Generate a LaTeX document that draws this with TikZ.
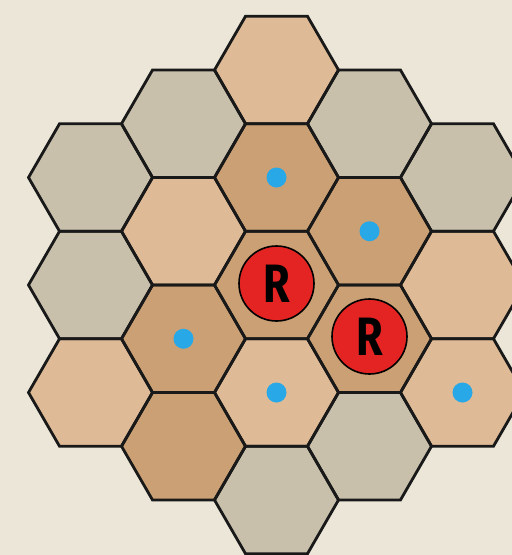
\documentclass[tikz,border=0pt]{standalone}
\usepackage{fontspec}
\newfontfamily\rfont{Fira Sans}
\definecolor{bgpaper}{RGB}{236,230,216}
\definecolor{hexgray}{RGB}{201,192,172}
\definecolor{hexlight}{RGB}{222,186,150}
\definecolor{hexdark}{RGB}{202,160,116}
\definecolor{tokred}{RGB}{228,36,34}
\definecolor{dotblue}{RGB}{40,168,230}
\begin{document}
\begin{tikzpicture}[x=1pt,y=-1pt,
  hexline/.style={draw=black!90, line width=2.8pt, line join=miter},
  dotmark/.style={circle, fill=dotblue, draw=none, minimum size=20pt, inner sep=0pt},
  token/.style={circle, fill=tokred, draw=black, line width=1.6pt, minimum size=75pt, inner sep=0pt,
    font=\rfont\bfseries\fontsize{54}{54}\selectfont}]
\useasboundingbox (0,0) rectangle (512,555);
\fill[bgpaper] (0,0) rectangle (512,555);
\clip (0,0) rectangle (512,555);
\def\hexlist{90.5/177.5/hexgray, 90.5/285/hexgray, 90.5/392.5/hexlight,
  183.5/123.75/hexgray, 183.5/231.25/hexlight, 183.5/338.75/hexdark, 183.5/446.25/hexdark,
  276.5/70/hexlight, 276.5/177.5/hexdark, 276.5/285/hexdark, 276.5/392.5/hexlight, 276.5/500/hexgray,
  369.5/123.75/hexgray, 369.5/231.25/hexdark, 369.5/338.75/hexdark, 369.5/446.25/hexgray,
  462.5/177.5/hexgray, 462.5/285/hexlight, 462.5/392.5/hexlight}
\foreach \cx/\cy/\col in \hexlist {
  \fill[\col] (\cx,\cy) +(0:62) -- +(60:62) -- +(120:62) -- +(180:62) -- +(240:62) -- +(300:62) -- cycle;
}
\foreach \cx/\cy/\col in \hexlist {
  \path[hexline] (\cx,\cy) +(0:62) -- +(60:62) -- +(120:62) -- +(180:62) -- +(240:62) -- +(300:62) -- cycle;
}
\node[dotmark] (d1) at (276.5,177.5) {};
\node[dotmark] (d2) at (369.5,231.25) {};
\node[dotmark] (d3) at (183.5,338.75) {};
\node[dotmark] (d4) at (276.5,392.5) {};
\node[dotmark] (d5) at (462.5,392.5) {};
\node[token] (r1) at (276.5,283.5) {\scalebox{0.8}[1]{R}};
\node[token] (r2) at (369.5,336.5) {\scalebox{0.8}[1]{R}};
\end{tikzpicture}
\end{document}
